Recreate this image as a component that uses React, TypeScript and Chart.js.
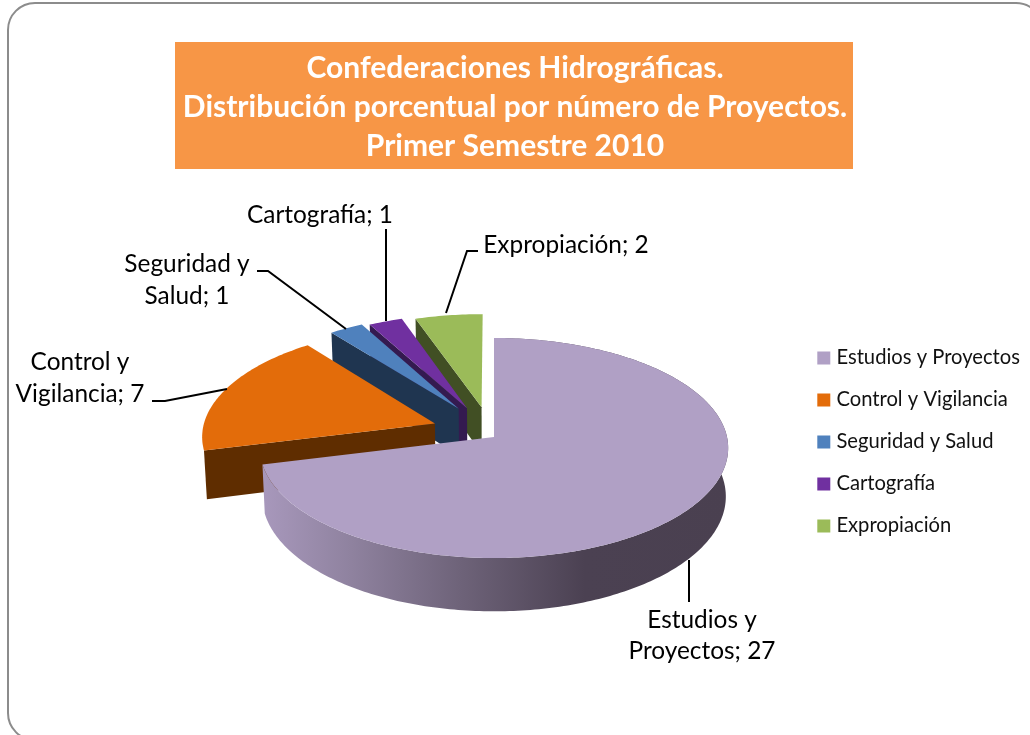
import React, { useEffect, useRef } from "react";
import { Chart, registerables } from "chart.js";

Chart.register(...registerables);

const titleLines = [
  "Confederaciones Hidrográficas.",
  "Distribución porcentual por número de Proyectos.",
  "Primer Semestre 2010",
];
const categories = ["Estudios y Proyectos", "Control y Vigilancia", "Seguridad y Salud", "Cartografía", "Expropiación"];
const projectCounts = [27, 7, 1, 1, 2];
const sliceColors = ["#b0a0c5", "#e36c0a", "#4f81bd", "#7030a0", "#9bbb59"];
const wallColors = ["#4a4050", "#5f2d00", "#1f3550", "#341a50", "#414f24"];
const explodeOffsets = [0, 63, 66, 69, 78];
const sliceLift = [0, 4, 3, 0, -5];
const labelWraps = [["Estudios y"], ["Control y"], ["Seguridad y"], [], []];

const FONT = "Lato, Carlito, sans-serif";
const CENTER = { x: 494, y: 437 };
const PERSPECTIVE = 0.1;
const FLATTEN = 0.4674;
const DEPTH = 48;
const BOTTOM_SHRINK = 0.99;

// Placement of each data label: text centre, first line y, leader polyline
const labelLayout = [
  { cx: 702, y: 620, leader: [[689, 560], [689, 602]] },
  { cx: 80, y: 362.5, leader: [[152, 401], [165, 401], [227, 389]] },
  { cx: 187, y: 264.5, leader: [[257, 271], [268, 271], [346, 329]] },
  { cx: 320, y: 215, leader: [[386, 229], [386, 321]] },
  { cx: 566, y: 245.5, leader: [[478, 251], [467, 251], [446, 313]] },
];

function sliceGeometry(arc: any, lift: number) {
  const R = arc.outerRadius;
  const mid = (arc.startAngle + arc.endAngle) / 2 + Math.PI / 2;
  const off = arc.options.offset || 0;
  const ox = off * Math.sin(mid);
  const oy = off * Math.cos(mid);
  const project = (X: number, Y: number, bottom: boolean) => {
    const f = 1 / (1 + (PERSPECTIVE * Y) / R);
    const k = bottom ? BOTTOM_SHRINK : 1;
    return [
      CENTER.x + X * f * k,
      CENTER.y - lift - FLATTEN * Y * f + (bottom ? DEPTH * f : 0),
    ];
  };
  const at = (theta: number, bottom: boolean) =>
    project(ox + R * Math.sin(theta), oy + R * Math.cos(theta), bottom);
  const apex = (bottom: boolean) => project(ox, oy, bottom);
  const a0 = arc.startAngle + Math.PI / 2;
  const a1 = arc.endAngle + Math.PI / 2;
  const steps = Math.max(8, Math.ceil((a1 - a0) * 60));
  const rim = (bottom: boolean) => {
    const pts: number[][] = [];
    for (let i = 0; i <= steps; i++) pts.push(at(a0 + ((a1 - a0) * i) / steps, bottom));
    return pts;
  };
  return { rim, apex };
}

function fillPoly(ctx: CanvasRenderingContext2D, pts: number[][], fill: any) {
  ctx.beginPath();
  pts.forEach((p, i) => (i ? ctx.lineTo(p[0], p[1]) : ctx.moveTo(p[0], p[1])));
  ctx.closePath();
  ctx.fillStyle = fill;
  ctx.fill();
}

const pie3dPlugin = {
  id: "pie3d",
  beforeDraw(chart: any) {
    const { ctx } = chart;
    ctx.save();
    ctx.fillStyle = "#ffffff";
    ctx.fillRect(0, 0, chart.width, chart.height);
    ctx.strokeStyle = "#8c8c8c";
    ctx.lineWidth = 2;
    ctx.beginPath();
    ctx.roundRect(8, 3, 1035, 737, 27);
    ctx.stroke();
    ctx.fillStyle = "#f79646";
    ctx.fillRect(175, 42, 678, 127);
    ctx.restore();
    // Legend block placement
    chart.legend.left = 799.5;
    chart.legend.top = 326;
  },
  beforeDatasetsDraw(chart: any) {
    const { ctx } = chart;
    const arcs = chart.getDatasetMeta(0).data;
    ctx.save();
    const grad = ctx.createLinearGradient(262, 0, 730, 0);
    grad.addColorStop(0, "#a898bc");
    grad.addColorStop(0.19, "#8f829f");
    grad.addColorStop(0.43, "#6d6278");
    grad.addColorStop(0.69, "#4b4152");
    grad.addColorStop(1, "#4a4050");
    for (let i = arcs.length - 1; i >= 0; i--) {
      const g = sliceGeometry(arcs[i], sliceLift[i]);
      const topRim = g.rim(false);
      const botRim = g.rim(true);
      if (i === 0) {
        // the whole slice keeps its outer wall in front
        fillPoly(ctx, [...topRim, ...botRim.slice().reverse()], grad);
      } else {
        // exploded slices only show the radial wall that faces the viewer
        fillPoly(ctx, [g.apex(false), topRim[0], botRim[0], g.apex(true)], wallColors[i]);
      }
      fillPoly(ctx, [g.apex(false), ...topRim], arcs[i].options.backgroundColor);
    }
    ctx.restore();
    return false;
  },
  afterDraw(chart: any) {
    const { ctx } = chart;
    ctx.save();
    ctx.strokeStyle = "#000000";
    ctx.lineWidth = 2;
    labelLayout.forEach((l) => {
      ctx.beginPath();
      l.leader.forEach((p, i) => (i ? ctx.lineTo(p[0], p[1]) : ctx.moveTo(p[0], p[1])));
      ctx.stroke();
    });
    ctx.fillStyle = "#000000";
    ctx.font = `24.4px ${FONT}`;
    ctx.textAlign = "center";
    ctx.textBaseline = "middle";
    categories.forEach((name, i) => {
      const wrap = labelWraps[i];
      const rest = wrap.length ? name.slice(wrap[0].length + 1) : name;
      const lines = [...wrap, `${rest}; ${projectCounts[i]}`];
      lines.forEach((t, j) => ctx.fillText(t, labelLayout[i].cx, labelLayout[i].y + j * 31.5));
    });
    ctx.restore();
  },
};

export default function App() {
  const ref = useRef<HTMLCanvasElement | null>(null);
  useEffect(() => {
    const baseLabels = (Chart as any).overrides.pie.plugins.legend.labels.generateLabels;
    const chart = new Chart(ref.current as HTMLCanvasElement, {
      type: "pie",
      data: {
        labels: categories,
        datasets: [
          {
            data: projectCounts,
            backgroundColor: sliceColors,
            borderWidth: 0,
            offset: explodeOffsets,
            radius: 233,
          } as any,
        ],
      },
      options: {
        responsive: false,
        animation: false,
        devicePixelRatio: 1,
        plugins: {
          tooltip: { enabled: false },
          title: {
            display: true,
            text: titleLines,
            color: "#ffffff",
            font: { family: FONT, size: 30, weight: "bold", lineHeight: "39px" },
            padding: { top: 49, bottom: 10 },
          },
          legend: {
            position: "right",
            align: "start",
            labels: {
              color: "#111111",
              font: { family: FONT, size: 20.2, lineHeight: "24px" },
              padding: 21.8,
              boxWidth: 5,
              boxHeight: 5,
              generateLabels(c: any) {
                return baseLabels(c).map((it: any) => ({
                  ...it,
                  strokeStyle: it.fillStyle,
                  lineWidth: 8,
                }));
              },
            },
          },
        },
      } as any,
      plugins: [pie3dPlugin as any],
    });
    return () => chart.destroy();
  }, []);
  return (
    <div style={{ position: "absolute", left: 0, top: 0, width: 1030, height: 735, overflow: "hidden" }}>
      <canvas ref={ref} width={1030} height={735} style={{ display: "block" }} />
    </div>
  );
}
